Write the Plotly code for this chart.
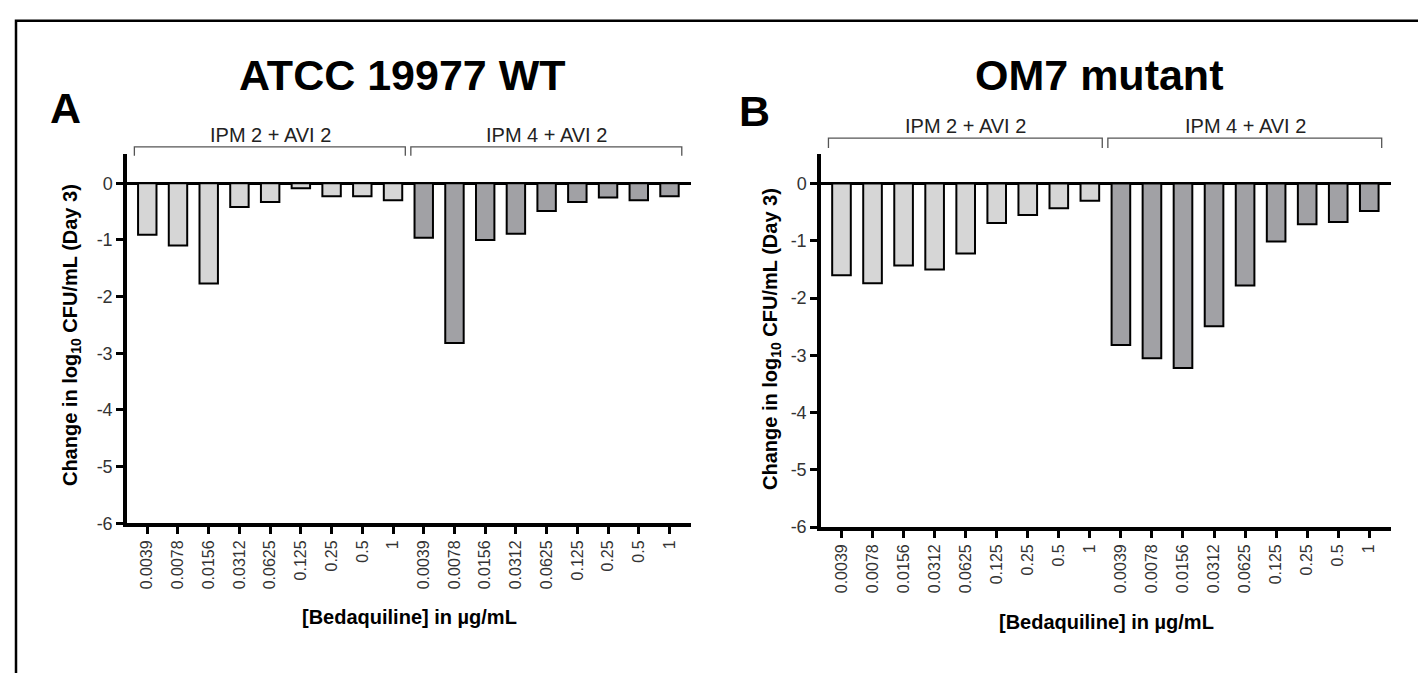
import plotly.graph_objects as go

# ---------------- data ----------------
concentrations = ["0.0039", "0.0078", "0.0156", "0.0312", "0.0625", "0.125", "0.25", "0.5", "1"]
group_labels = ["IPM 2 + AVI 2", "IPM 4 + AVI 2"]
panel_titles = ["ATCC 19977 WT", "OM7 mutant"]
panel_letters = ["A", "B"]

wt_ipm2 = [-0.91, -1.10, -1.77, -0.42, -0.33, -0.09, -0.23, -0.23, -0.30]
wt_ipm4 = [-0.96, -2.82, -1.00, -0.89, -0.49, -0.33, -0.25, -0.30, -0.23]
om7_ipm2 = [-1.60, -1.74, -1.43, -1.50, -1.22, -0.69, -0.55, -0.43, -0.30]
om7_ipm4 = [-2.82, -3.05, -3.22, -2.49, -1.78, -1.01, -0.71, -0.67, -0.48]

y_ticks = [0, -1, -2, -3, -4, -5, -6]

# ---------------- style ----------------
W, H = 1426, 673
FONT = "Liberation Sans, Arial, sans-serif"
LIGHT = "#d6d6d6"
DARK = "#a1a1a5"


def px_x(p):
    return p / W


def px_y(p):
    return 1 - p / H


panels = [
    dict(vals=(wt_ipm2, wt_ipm4), xd=(119, 683), yd=(148, 523), ax="",
         letter=(57, 102), title=(394, 68), bracket_y=141, bracket_end=150,
         ytitle=(63, 332), xtitle=(401, 618)),
    dict(vals=(om7_ipm2, om7_ipm4), xd=(813, 1383), yd=(148, 527), ax="2",
         letter=(746, 105), title=(1091, 68), bracket_y=132, bracket_end=142,
         ytitle=(763, 336), xtitle=(1098, 623)),
]

fig = go.Figure()
n = len(concentrations)
positions1 = list(range(n))
positions2 = list(range(n, 2 * n))

layout = dict(
    width=W, height=H, autosize=False,
    margin=dict(l=0, r=0, t=0, b=0),
    paper_bgcolor="white", plot_bgcolor="white",
    showlegend=False,
    shapes=[], annotations=[],
)

for i, p in enumerate(panels):
    ax = p["ax"]
    xname = "x" + ax
    yname = "y" + ax
    for vals, pos, col in zip(p["vals"], (positions1, positions2), (LIGHT, DARK)):
        fig.add_trace(go.Bar(
            x=pos, y=vals, xaxis=xname, yaxis=yname,
            marker=dict(color=col, line=dict(color="black", width=2)),
            width=0.6, hoverinfo="skip",
        ))
    layout["xaxis" + ax] = dict(
        domain=[px_x(p["xd"][0]), px_x(p["xd"][1])],
        anchor=yname,
        range=[-0.66, 2 * n - 1 + 0.70],
        tickmode="array", tickvals=positions1 + positions2,
        ticktext=concentrations + concentrations,
        tickangle=-90,
        tickfont=dict(family=FONT, size=16, color="#333333"),
        ticks="outside", ticklen=7, tickwidth=2.5, tickcolor="black",
        showline=True, linewidth=3.5, linecolor="black",
        showgrid=False, zeroline=False, fixedrange=True,
    )
    layout["yaxis" + ax] = dict(
        domain=[px_y(p["yd"][1]), px_y(p["yd"][0])],
        anchor=xname,
        range=[-6, 0.52],
        tickmode="array", tickvals=y_ticks, ticktext=[str(v) for v in y_ticks],
        tickfont=dict(family=FONT, size=18, color="#333333"),
        ticks="outside", ticklen=7, tickwidth=2.5, tickcolor="black",
        showline=True, linewidth=3.5, linecolor="black",
        showgrid=False, zeroline=True, zerolinecolor="black", zerolinewidth=2.5,
        fixedrange=True,
    )
    # group brackets
    for g, pos in enumerate((positions1, positions2)):
        x0 = pos[0] - 0.42
        x1 = pos[-1] + 0.40
        y_line = px_y(p["bracket_y"])
        y_end = px_y(p["bracket_end"])
        layout["shapes"].append(dict(
            type="path", xref=xname, yref="paper",
            path=f"M {x0},{y_end} L {x0},{y_line} L {x1},{y_line} L {x1},{y_end}",
            line=dict(color="#555555", width=1.3),
        ))
        layout["annotations"].append(dict(
            xref=xname, yref="paper", x=(pos[0] + pos[-1]) / 2, y=px_y(p["bracket_y"] - 12),
            text=group_labels[g], showarrow=False,
            font=dict(family=FONT, size=20, color="#222222"),
            xanchor="center", yanchor="middle",
        ))
    # panel title
    layout["annotations"].append(dict(
        xref="paper", yref="paper", x=px_x(p["title"][0]), y=px_y(p["title"][1]),
        text=f"<b>{panel_titles[i]}</b>", showarrow=False,
        font=dict(family=FONT, size=43, color="black"),
        xanchor="center", yanchor="middle",
    ))
    # panel letter
    layout["annotations"].append(dict(
        xref="paper", yref="paper", x=px_x(p["letter"][0]), y=px_y(p["letter"][1]),
        text=f"<b>{panel_letters[i]}</b>", showarrow=False,
        font=dict(family=FONT, size=43, color="black"),
        xanchor="center", yanchor="middle",
    ))
    # y title
    layout["annotations"].append(dict(
        xref="paper", yref="paper", x=px_x(p["ytitle"][0]), y=px_y(p["ytitle"][1]),
        text="<b>Change in log<sub>10</sub> CFU/mL (Day 3)</b>", showarrow=False, textangle=-90,
        font=dict(family=FONT, size=20, color="black"),
        xanchor="center", yanchor="middle",
    ))
    # x title
    layout["annotations"].append(dict(
        xref="paper", yref="paper", x=px_x(p["xtitle"][0]), y=px_y(p["xtitle"][1]),
        text="<b>[Bedaquiline] in µg/mL</b>", showarrow=False,
        font=dict(family=FONT, size=20, color="black"),
        xanchor="center", yanchor="middle",
    ))

# outer frame
layout["shapes"].append(dict(
    type="rect", xref="paper", yref="paper",
    x0=px_x(8), x1=1.01, y0=-0.01, y1=px_y(13),
    line=dict(color="black", width=2.5), fillcolor="rgba(0,0,0,0)",
))

fig.update_layout(**layout)
fig.write_html("out.html")
